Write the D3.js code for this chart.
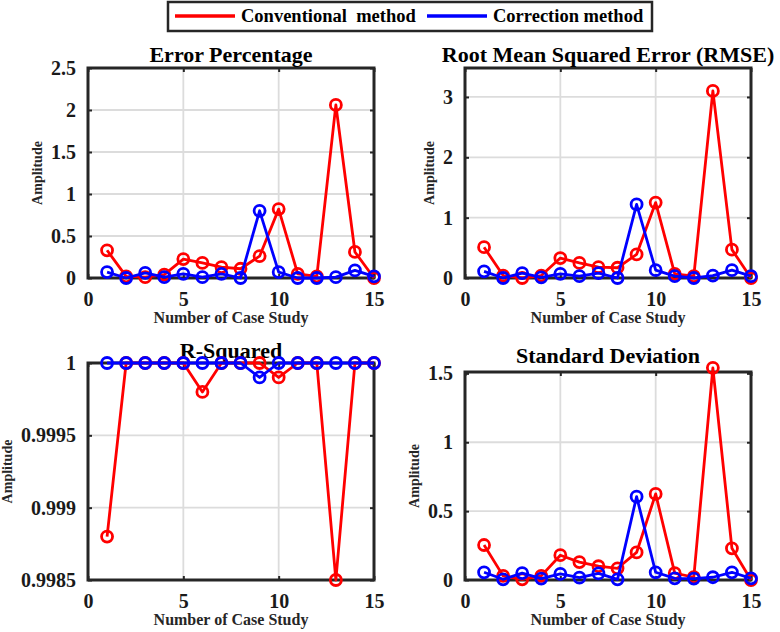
<!DOCTYPE html>
<html>
<head>
<meta charset="utf-8">
<script src="https://cdn.jsdelivr.net/npm/d3@7"></script>
<style>
	body { margin: 0; background: #fff; }
	svg { display: block; }
	svg text { font-family: "Liberation Serif", "Times New Roman", serif; font-weight: bold; }
</style>
</head>
<body>
<div id="chart"></div>
<script>
	/* four metric panels, conventional vs correction method over 15 case studies */

	var caseNo = [1, 2, 3, 4, 5, 6, 7, 8, 9, 10, 11, 12, 13, 14, 15];
	var xTicks = [0, 5, 10, 15];

	var errConv = [0.33, 0.02, 0.01, 0.04, 0.225, 0.18, 0.13, 0.11, 0.26, 0.82, 0.05, 0.02, 2.06, 0.31, 0.0];
	var errCorr = [0.07, 0.0, 0.06, 0.01, 0.05, 0.01, 0.05, 0.0, 0.80, 0.07, 0.0, 0.0, 0.01, 0.09, 0.02];
	var errTicks = [0, 0.5, 1, 1.5, 2, 2.5];

	var rmseConv = [0.51, 0.04, 0.0, 0.04, 0.33, 0.25, 0.18, 0.17, 0.39, 1.25, 0.07, 0.03, 3.1, 0.47, 0.0];
	var rmseCorr = [0.11, 0.0, 0.08, 0.01, 0.07, 0.03, 0.08, 0.0, 1.22, 0.13, 0.03, 0.0, 0.04, 0.13, 0.03];
	var rmseTicks = [0, 1, 2, 3];

	var r2Conv = [0.9988, 1, 1, 1, 1, 0.9998, 1, 1, 1, 0.9999, 1, 1, 0.9985, 1, 1];
	var r2Corr = [1, 1, 1, 1, 1, 1, 1, 1, 0.9999, 1, 1, 1, 1, 1, 1];
	var r2Ticks = [0.9985, 0.999, 0.9995, 1];

	var sdConv = [0.254, 0.03, 0.005, 0.03, 0.18, 0.13, 0.10, 0.085, 0.20, 0.625, 0.05, 0.02, 1.54, 0.23, 0.0];
	var sdCorr = [0.056, 0.005, 0.05, 0.01, 0.044, 0.017, 0.048, 0.005, 0.605, 0.056, 0.012, 0.01, 0.02, 0.056, 0.012];
	var sdTicks = [0, 0.5, 1, 1.5];

	var seriesNames = ["Conventional  method", "Correction method"];
	var seriesColors = ["#ff0000", "#0000ff"];

	var W = 780, H = 632;
	var frameColor = "#262626";
	var gridColor = "#dcdcdc";
	var serif = "Liberation Serif, Times New Roman, serif";

	var svg = d3.select("#chart")
		.append("svg")
		.attr("width", W)
		.attr("height", H);

	// panel table: box = [left, top, right, bottom]
	var panels = [
		{title: "Error Percentage", conv: errConv, corr: errCorr, yDom: [0, 2.5], yTicks: errTicks, box: [88, 68, 374, 278], titleGap: 6},
		{title: "Root Mean Squared Error (RMSE)", conv: rmseConv, corr: rmseCorr, yDom: [0, 3.48], yTicks: rmseTicks, box: [465, 68, 751, 278], titleGap: 6},
		{title: "R-Squared", conv: r2Conv, corr: r2Corr, yDom: [0.9985, 1], yTicks: r2Ticks, box: [88, 363, 374, 580], titleGap: 5},
		{title: "Standard Deviation", conv: sdConv, corr: sdCorr, yDom: [0, 1.51], yTicks: sdTicks, box: [465, 372, 751, 580], titleGap: 9}
	];

	var fmt = function(v) { return String(+v.toFixed(4)); };

	panels.forEach(function(p) {
		var x0 = p.box[0], y0 = p.box[1], x1 = p.box[2], y1 = p.box[3];
		var x = d3.scaleLinear().domain([0, 15]).range([x0, x1]);
		var y = d3.scaleLinear().domain(p.yDom).range([y1, y0]);

		var g = svg.append("g");

		// grid
		g.selectAll(".gx").data(xTicks.slice(1, -1)).enter().append("line")
			.attr("x1", function(d) { return x(d); }).attr("x2", function(d) { return x(d); })
			.attr("y1", y0).attr("y2", y1)
			.attr("stroke", gridColor).attr("stroke-width", 1.8);
		g.selectAll(".gy").data(p.yTicks.filter(function(d) { return y(d) > y0 + 2 && y(d) < y1 - 2; })).enter().append("line")
			.attr("x1", x0).attr("x2", x1)
			.attr("y1", function(d) { return y(d); }).attr("y2", function(d) { return y(d); })
			.attr("stroke", gridColor).attr("stroke-width", 1.8);

		// axes with inward ticks on every side
		var axL = g.append("g").attr("transform", "translate(" + x0 + ",0)")
			.call(d3.axisLeft(y).tickValues(p.yTicks).tickSizeInner(-4).tickSizeOuter(0).tickPadding(12).tickFormat(fmt));
		g.append("g").attr("transform", "translate(" + x1 + ",0)")
			.call(d3.axisRight(y).tickValues(p.yTicks).tickSizeInner(-4).tickSizeOuter(0).tickFormat(""));
		g.append("g").attr("transform", "translate(0," + y1 + ")")
			.call(d3.axisBottom(x).tickValues(xTicks).tickSizeInner(-4).tickSizeOuter(0).tickPadding(14).tickFormat(d3.format("d")));
		g.append("g").attr("transform", "translate(0," + y0 + ")")
			.call(d3.axisTop(x).tickValues(xTicks).tickSizeInner(-4).tickSizeOuter(0).tickFormat(""));
		g.selectAll(".domain").remove();
		g.selectAll(".tick line").attr("stroke", frameColor).attr("stroke-width", 2);
		g.selectAll("g").attr("font-family", serif).attr("font-size", 20);
		g.selectAll(".tick text")
			.attr("fill", "#1a1a1a");

		// frame
		g.append("rect")
			.attr("x", x0).attr("y", y0)
			.attr("width", x1 - x0).attr("height", y1 - y0)
			.attr("fill", "none")
			.attr("stroke", frameColor)
			.attr("stroke-width", 3);

		// labels
		g.append("text")
			.attr("x", (x0 + x1) / 2).attr("y", y0 - p.titleGap)
			.attr("text-anchor", "middle")
			.attr("font-size", 22)
			.attr("fill", "#000")
			.text(p.title);

		g.append("text")
			.attr("x", (x0 + x1) / 2).attr("y", y1 + 45)
			.attr("text-anchor", "middle")
			.attr("font-size", 16)
			.attr("fill", frameColor)
			.text("Number of Case Study");

		var widest = 0;
		axL.selectAll(".tick text").each(function() {
			widest = Math.max(widest, this.getComputedTextLength());
		});
		var lx = x0 - 12 - widest - 9;
		g.append("text")
			.attr("transform", "translate(" + lx + "," + ((y0 + y1) / 2) + ") rotate(-90)")
			.attr("text-anchor", "middle")
			.attr("font-size", 14)
			.attr("fill", frameColor)
			.text("Amplitude");

		// series: conventional first, correction on top
		[p.conv, p.corr].forEach(function(vals, k) {
			var pts = caseNo.map(function(c, i) { return [c, vals[i]]; });
			g.append("path")
				.datum(pts)
				.attr("d", d3.line().x(function(d) { return x(d[0]); }).y(function(d) { return y(d[1]); }))
				.attr("fill", "none")
				.attr("stroke", seriesColors[k])
				.attr("stroke-width", 2.8)
				.attr("stroke-linejoin", "round");
			g.selectAll(".m" + k).data(pts).enter().append("circle")
				.attr("cx", function(d) { return x(d[0]); })
				.attr("cy", function(d) { return y(d[1]); })
				.attr("r", 5.5)
				.attr("fill", "none")
				.attr("stroke", seriesColors[k])
				.attr("stroke-width", 2.8);
		});
	});

	// legend
	var lg = svg.append("g");
	lg.append("rect")
		.attr("x", 168).attr("y", 2)
		.attr("width", 484).attr("height", 29)
		.attr("fill", "#fff")
		.attr("stroke", frameColor)
		.attr("stroke-width", 2.5);
	var legX = [175, 427];
	seriesNames.forEach(function(name, k) {
		lg.append("line")
			.attr("x1", legX[k]).attr("x2", legX[k] + 60)
			.attr("y1", 16).attr("y2", 16)
			.attr("stroke", seriesColors[k])
			.attr("stroke-width", 3.5);
		lg.append("text")
			.attr("x", legX[k] + 66).attr("y", 22)
			.attr("font-size", 18.5)
			.attr("fill", "#000")
			.attr("xml:space", "preserve")
			.style("white-space", "pre")
			.text(name);
	});
</script>
</body>
</html>
